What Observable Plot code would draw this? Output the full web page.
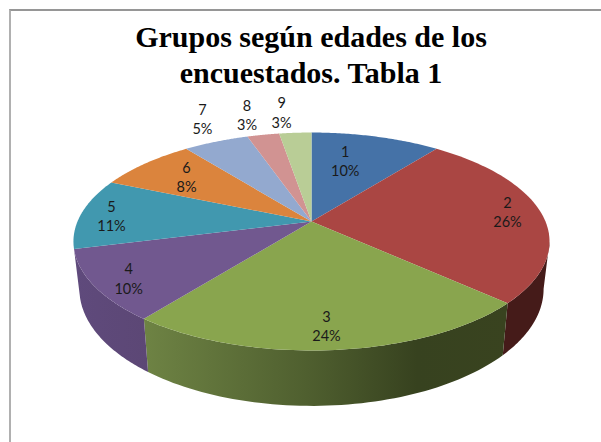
<!DOCTYPE html>
<html>
<head>
<meta charset="utf-8">
<script src="https://cdn.jsdelivr.net/npm/d3@7"></script>
<script src="https://cdn.jsdelivr.net/npm/@observablehq/plot@0.6"></script>
<style>
  html, body { margin: 0; padding: 0; background: #fff; }
  #page { position: relative; width: 601px; height: 442px; overflow: hidden; }
  #frame { position: absolute; left: 9px; top: 9px; width: 592px; height: 433px; box-sizing: border-box;
           border-left: 2px solid #b0b0b0; border-top: 2px solid #969696; }
  #title { position: relative; margin: 0; padding-top: 19px; height: 56px; width: 622px;
           text-align: center; font: bold 30px/36px "Liberation Serif", serif; color: #000; }
  #chart { position: relative; height: 367px; }
  svg { display: block; }
</style>
</head>
<body>
<div id="page">
  <div id="frame"></div>
  <div id="title">Grupos según edades de los<br>encuestados. Tabla 1</div>
  <div id="chart"></div>
</div>
<script>
const groups = ["1", "2", "3", "4", "5", "6", "7", "8", "9"];
const shares = [10.49, 26.4, 23.6, 10.49, 10.51, 8.0, 5.3, 2.6, 2.61];
const topColors = ["#4572A7", "#AA4643", "#89A54E", "#71588F", "#4198AF", "#DB843D", "#93A9CF", "#D19392", "#B9CD96"];
const labelReach = [0.668, 0.858, 0.838, 0.862, 0.867, 0.742, 1.32, 1.294, 1.296];
const labelTurn = [-4.9, -1.8, 1, -1, -0.3, 0.9, 2.8, -1.1, -2.3];
const sideFills = {1: "#451b19", 2: "url(#sideGreen)", 3: "url(#sidePurple)"};

// Perspective of the tilted disc, in disc units
const tilt = 0.1835;
const rad = d3.scaleLinear().domain([0, 100]).range([0, 2 * Math.PI]);
const project = (a, r = 1) => {
  const u = r * Math.sin(a), v = -r * Math.cos(a), w = 1 - tilt * v;
  return [u / w, v / w];
};
const projectBase = (a) => {
  const [x, y] = project(a);
  return [0.975 * x, 0.437 + 1.073 * y];
};
const arcAngles = (a0, a1) => d3.range(0, 61).map((i) => a0 + (a1 - a0) * i / 60);

const ends = d3.cumsum(shares);
const slices = groups.map((g, i) => ({
  group: g, i, a0: rad(i ? ends[i - 1] : 0), a1: rad(ends[i]), share: shares[i]
}));

// Top face outlines
const topFace = slices.flatMap((s) => [
  {x: 0, y: 0, group: s.group},
  ...arcAngles(s.a0, s.a1).map((a) => {
    const [x, y] = project(a);
    return {x, y, group: s.group};
  }),
  {x: 0, y: 0, group: s.group}
]);

// Side walls: the part of the rim facing the viewer
const silhouetteR = Math.PI - Math.atan2(Math.sqrt(1 - tilt * tilt), tilt);
const silhouetteL = 2 * Math.PI - silhouetteR;
const walls = slices
  .filter((s) => s.a1 > silhouetteR && s.a0 < silhouetteL)
  .map((s) => {
    const a0 = Math.max(s.a0, silhouetteR), a1 = Math.min(s.a1, silhouetteL);
    const angles = arcAngles(a0, a1);
    return {
      fill: sideFills[s.i],
      points: [
        ...angles.map((a) => { const [x, y] = project(a); return {x, y}; }),
        ...angles.slice().reverse().map((a) => { const [x, y] = projectBase(a); return {x, y}; })
      ]
    };
  });

const labels = slices.map((s, i) => {
  const [x, y] = project((s.a0 + s.a1) / 2 + labelTurn[i] * Math.PI / 180, labelReach[i]);
  return {x, y, text: `${s.group}\n${Math.round(s.share)}%`};
});

const defs = () => {
  const d = d3.create("svg:defs");
  const grad = (id, stops) => {
    const g = d.append("linearGradient").attr("id", id).attr("x1", 0).attr("x2", 1).attr("y1", 0).attr("y2", 0);
    stops.forEach(([o, c]) => g.append("stop").attr("offset", o).attr("stop-color", c));
  };
  grad("sideGreen", [[0, "#6e8344"], [0.45, "#4f5f2f"], [0.75, "#37421f"], [1, "#39431f"]]);
  grad("sidePurple", [[0, "#5f4a7c"], [1, "#5c4775"]]);
  return d.node();
};

const chart = Plot.plot({
  width: 601,
  height: 367,
  margin: 0,
  x: {domain: [-1, 1], range: [77, 545], axis: null},
  y: {domain: [-1, 1], range: [221 - 75 - 105.3, 221 - 75 + 105.3], axis: null},
  marks: [
    defs,
    ...walls.map((w) => Plot.line(w.points, {x: "x", y: "y", fill: w.fill, stroke: "none", curve: "linear-closed"})),
    ...slices.map((s, i) => Plot.line(topFace.filter((d) => d.group === s.group), {
      x: "x", y: "y", fill: topColors[i], stroke: "none", curve: "linear-closed"
    })),
    Plot.text(labels, {
      x: "x", y: "y", text: "text", fill: "#1a1a1a",
      fontFamily: "Lato", fontSize: 14.5, lineHeight: 1.33, lineAnchor: "middle", textAnchor: "middle"
    })
  ]
});
document.getElementById("chart").appendChild(chart);
</script>
</body>
</html>
